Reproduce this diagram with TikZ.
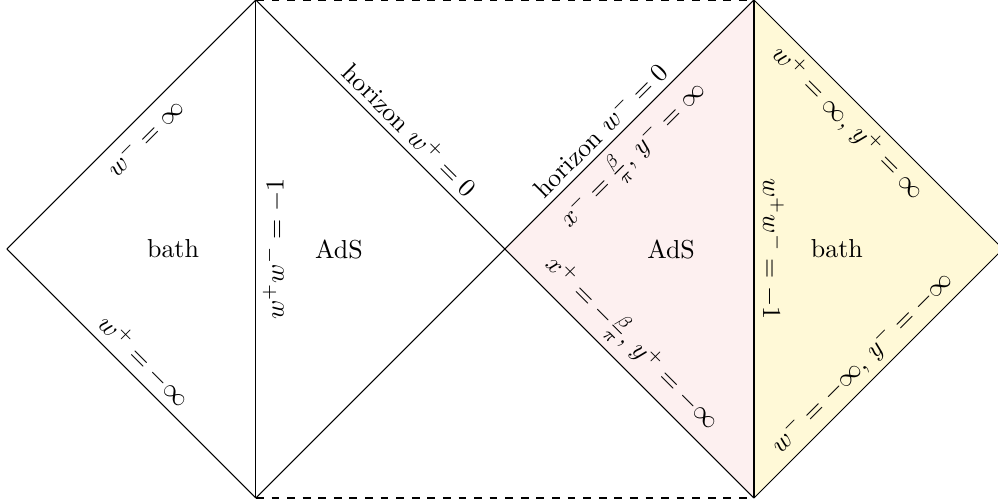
\documentclass[tikz,border=0pt]{standalone}
\definecolor{pinkfill}{RGB}{253,240,240}
\definecolor{yellowfill}{RGB}{255,249,215}
\begin{document}
\begin{tikzpicture}[x=3.37cm,y=3.37cm,
  edgelabel/.style={sloped,inner sep=2.5pt},
  region/.style={inner sep=0pt}]
\clip (-2.028,-1.012) rectangle (1.980,1.0);
\coordinate (L) at (-2,0);
\coordinate (TL) at (-1,1);
\coordinate (BL) at (-1,-1);
\coordinate (C) at (0,0);
\coordinate (TR) at (1,1);
\coordinate (BR) at (1,-1);
\coordinate (R) at (2,0);
\coordinate (ML) at (-1,0);
\coordinate (MR) at (1,0);
\fill[pinkfill] (C) -- (TR) -- (BR) -- cycle;
\fill[yellowfill] (TR) -- (R) -- (BR) -- cycle;
\draw (L) -- (TL) node[edgelabel,pos=0.5,below] (l1) {$w^-=\infty$};
\draw (L) -- (BL) node[edgelabel,pos=0.5,above] (l2) {$w^+=-\infty$};
\draw (TL) -- (BL);
\node[rotate=90,anchor=north,inner sep=2.5pt] (l3) at (ML) {$w^+w^-=-1$};
\draw (TL) -- (C) node[edgelabel,pos=0.57,above] (l4) {horizon $w^+=0$};
\draw (C) -- (BL);
\draw (C) -- (TR) node[edgelabel,pos=0.43,above] (l5) {horizon $w^-=0$}
                  node[edgelabel,pos=0.446,below] (l6) {$x^-=\frac{\beta}{\pi}$, $y^-=\infty$};
\draw (C) -- (BR) node[edgelabel,pos=0.444,above] (l7) {$x^+=-\frac{\beta}{\pi}$, $y^+=-\infty$};
\draw (TR) -- (BR);
\node[rotate=-90,anchor=south,inner sep=2.5pt] (l8) at (MR) {$w^+w^-=-1$};
\draw (TR) -- (R) node[edgelabel,pos=0.436,below] (l9) {$w^+=\infty$, $y^+=\infty$};
\draw (BR) -- (R) node[edgelabel,pos=0.49,above] (l10) {$w^-=-\infty$, $y^-=-\infty$};
\draw[dashed] (TL) -- (TR);
\draw[dashed] (BL) -- (BR);
\node[region] (bathL) at (-1.333,0) {bath};
\node[region] (adsL) at (-0.667,0) {AdS};
\node[region] (adsR) at (0.667,0) {AdS};
\node[region] (bathR) at (1.333,0) {bath};
\end{tikzpicture}
\end{document}
